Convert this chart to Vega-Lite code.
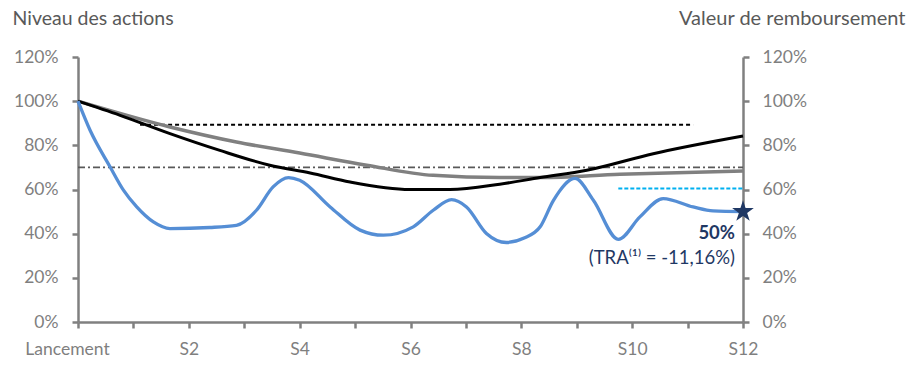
{
  "$schema": "https://vega.github.io/schema/vega-lite/v6.json",
  "width": 665,
  "height": 265,
  "autosize": {"type": "none"},
  "padding": {"left": 78, "top": 57, "right": 178, "bottom": 54},
  "background": "white",
  "config": {
    "view": {"stroke": null},
    "font": "Lato",
    "axis": {"labelFont": "Lato", "titleFont": "Lato"}
  },
  "datasets": {
    "blue": [
      {"s": 0, "v": 1.0}, {"s": 0.22, "v": 0.867}, {"s": 0.58, "v": 0.702}, {"s": 0.82, "v": 0.597},
      {"s": 1.06, "v": 0.521}, {"s": 1.36, "v": 0.453}, {"s": 1.66, "v": 0.423}, {"s": 2.38, "v": 0.428},
      {"s": 2.86, "v": 0.438}, {"s": 3.22, "v": 0.506}, {"s": 3.52, "v": 0.612}, {"s": 3.8, "v": 0.654},
      {"s": 4.0, "v": 0.642}, {"s": 4.55, "v": 0.521}, {"s": 5.09, "v": 0.416}, {"s": 5.51, "v": 0.393},
      {"s": 6.05, "v": 0.431}, {"s": 6.41, "v": 0.506}, {"s": 6.74, "v": 0.554}, {"s": 7.01, "v": 0.521},
      {"s": 7.37, "v": 0.401}, {"s": 7.73, "v": 0.36}, {"s": 8.05, "v": 0.38}, {"s": 8.34, "v": 0.431},
      {"s": 8.58, "v": 0.551}, {"s": 8.97, "v": 0.65}, {"s": 9.3, "v": 0.551}, {"s": 9.75, "v": 0.374},
      {"s": 10.14, "v": 0.476}, {"s": 10.56, "v": 0.559}, {"s": 11.1, "v": 0.521}, {"s": 11.46, "v": 0.503},
      {"s": 12, "v": 0.5}
    ],
    "black": [
      {"s": 0, "v": 1.0}, {"s": 0.76, "v": 0.936}, {"s": 1.66, "v": 0.853}, {"s": 2.56, "v": 0.777},
      {"s": 3.46, "v": 0.71}, {"s": 4.19, "v": 0.675}, {"s": 4.91, "v": 0.634}, {"s": 5.99, "v": 0.6},
      {"s": 6.71, "v": 0.6}, {"s": 7.61, "v": 0.624}, {"s": 8.34, "v": 0.654}, {"s": 9.18, "v": 0.687},
      {"s": 10.38, "v": 0.762}, {"s": 12, "v": 0.842}
    ],
    "gray": [
      {"s": 0, "v": 1.0}, {"s": 1.66, "v": 0.883}, {"s": 2.86, "v": 0.815}, {"s": 4.0, "v": 0.765},
      {"s": 5.21, "v": 0.71}, {"s": 6.41, "v": 0.664}, {"s": 7.61, "v": 0.654}, {"s": 8.34, "v": 0.654},
      {"s": 9.78, "v": 0.669}, {"s": 12, "v": 0.684}
    ],
    "dotted": [{"s0": 1.12, "s1": 11.1, "v": 0.893}],
    "dashdot": [{"s0": 0, "s1": 12, "v": 0.7}],
    "lightblue": [{"s0": 9.75, "s1": 12, "v": 0.604}],
    "final": [{"s": 12, "v": 0.5, "pct": "50%", "tra": "(TRA⁽¹⁾ = -11,16%)"}]
  },
  "encoding": {
    "x": {"type": "quantitative", "scale": {"domain": [0, 12], "nice": false},
      "axis": {
        "orient": "bottom",
        "values": [0, 1, 2, 3, 4, 5, 6, 7, 8, 9, 10, 11, 12],
        "labelExpr": "datum.value == 0 ? 'Lancement' : (datum.value % 2 == 0 ? 'S' + datum.value : '')",
        "title": null, "grid": false,
        "domainColor": "#808080", "domainWidth": 2.5,
        "tickColor": "#808080", "tickWidth": 2.5, "tickSize": 6,
        "labelColor": "#7f7f7f", "labelFontSize": 17.5, "labelPadding": 12,
        "labelOffset": {"condition": {"test": "datum.value == 0", "value": -11}, "value": 0},
        "labelFlush": false, "labelOverlap": false
      }}
  },
  "layer": [
    {
      "encoding": {
        "y": {"type": "quantitative", "scale": {"domain": [0, 1.2], "nice": false},
          "axis": {
            "values": [0, 0.2, 0.4, 0.6, 0.8, 1.0, 1.2], "format": ".0%", "orient": "left", "grid": false,
            "domainColor": "#808080", "domainWidth": 2.5,
            "tickColor": "#808080", "tickWidth": 2.5, "tickSize": 6,
            "labelColor": "#7f7f7f", "labelFontSize": 17.5, "labelPadding": 14,
            "title": "Niveau des actions", "titleAngle": 0, "titleAlign": "left", "titleBaseline": "alphabetic",
            "titleX": -66, "titleY": -33, "titleFontSize": 19.5, "titleFontWeight": "normal", "titleColor": "#595959"
          }}
      },
      "layer": [
        {
          "data": {"name": "dashdot"},
          "mark": {"type": "rule", "color": "#595959", "strokeWidth": 1.6, "strokeDash": [7, 3, 2, 3]},
          "encoding": {"x": {"field": "s0"}, "x2": {"field": "s1"}, "y": {"field": "v"}}
        },
        {
          "data": {"name": "dotted"},
          "mark": {"type": "rule", "color": "#000000", "strokeWidth": 2, "strokeDash": [4, 3]},
          "encoding": {"x": {"field": "s0"}, "x2": {"field": "s1"}, "y": {"field": "v"}}
        },
        {
          "data": {"name": "lightblue"},
          "mark": {"type": "rule", "color": "#00b0f0", "strokeWidth": 2, "strokeDash": [4, 2]},
          "encoding": {"x": {"field": "s0"}, "x2": {"field": "s1"}, "y": {"field": "v"}}
        },
        {
          "data": {"name": "gray"},
          "mark": {"type": "line", "color": "#808080", "strokeWidth": 3.5, "interpolate": "monotone"},
          "encoding": {"x": {"field": "s"}, "y": {"field": "v"}}
        },
        {
          "data": {"name": "black"},
          "mark": {"type": "line", "color": "#000000", "strokeWidth": 3, "interpolate": "monotone"},
          "encoding": {"x": {"field": "s"}, "y": {"field": "v"}}
        },
        {
          "data": {"name": "blue"},
          "mark": {"type": "line", "color": "#558ed5", "strokeWidth": 3.3, "interpolate": "monotone"},
          "encoding": {"x": {"field": "s"}, "y": {"field": "v"}}
        },
        {
          "data": {"name": "final"},
          "mark": {"type": "point", "shape": "M0,-1L0.2245,-0.309L0.951,-0.309L0.363,0.118L0.588,0.809L0,0.382L-0.588,0.809L-0.363,0.118L-0.951,-0.309L-0.2245,-0.309Z", "filled": true, "color": "#1f3864", "size": 520, "opacity": 1},
          "encoding": {"x": {"field": "s"}, "y": {"field": "v"}}
        },
        {
          "data": {"name": "final"},
          "mark": {"type": "text", "align": "right", "baseline": "middle", "dx": -8, "dy": 21, "fontSize": 18.5, "fontWeight": "bold", "color": "#1f3864", "font": "Lato"},
          "encoding": {"x": {"field": "s"}, "y": {"field": "v"}, "text": {"field": "pct"}}
        },
        {
          "data": {"name": "final"},
          "mark": {"type": "text", "align": "right", "baseline": "middle", "dx": -8, "dy": 46, "fontSize": 18.5, "color": "#1f3864", "font": "Lato"},
          "encoding": {"x": {"field": "s"}, "y": {"field": "v"}, "text": {"field": "tra"}}
        }
      ]
    },
    {
      "data": {"name": "dashdot"},
      "mark": {"type": "rule", "opacity": 0},
      "encoding": {
        "x": {"field": "s0"}, "x2": {"field": "s1"},
        "y": {"field": "v", "type": "quantitative", "scale": {"domain": [0, 1.2], "nice": false},
          "axis": {
            "values": [0, 0.2, 0.4, 0.6, 0.8, 1.0, 1.2], "format": ".0%", "orient": "right", "grid": false,
            "domainColor": "#808080", "domainWidth": 2.5,
            "tickColor": "#808080", "tickWidth": 2.5, "tickSize": 6,
            "labelColor": "#7f7f7f", "labelFontSize": 17.5, "labelPadding": 13,
            "title": "Valeur de remboursement", "titleAngle": 0, "titleAlign": "right", "titleBaseline": "alphabetic",
            "titleX": 162, "titleY": -33, "titleFontSize": 20, "titleFontWeight": "normal", "titleColor": "#595959"
          }}
      }
    }
  ],
  "resolve": {"scale": {"y": "independent"}}
}
